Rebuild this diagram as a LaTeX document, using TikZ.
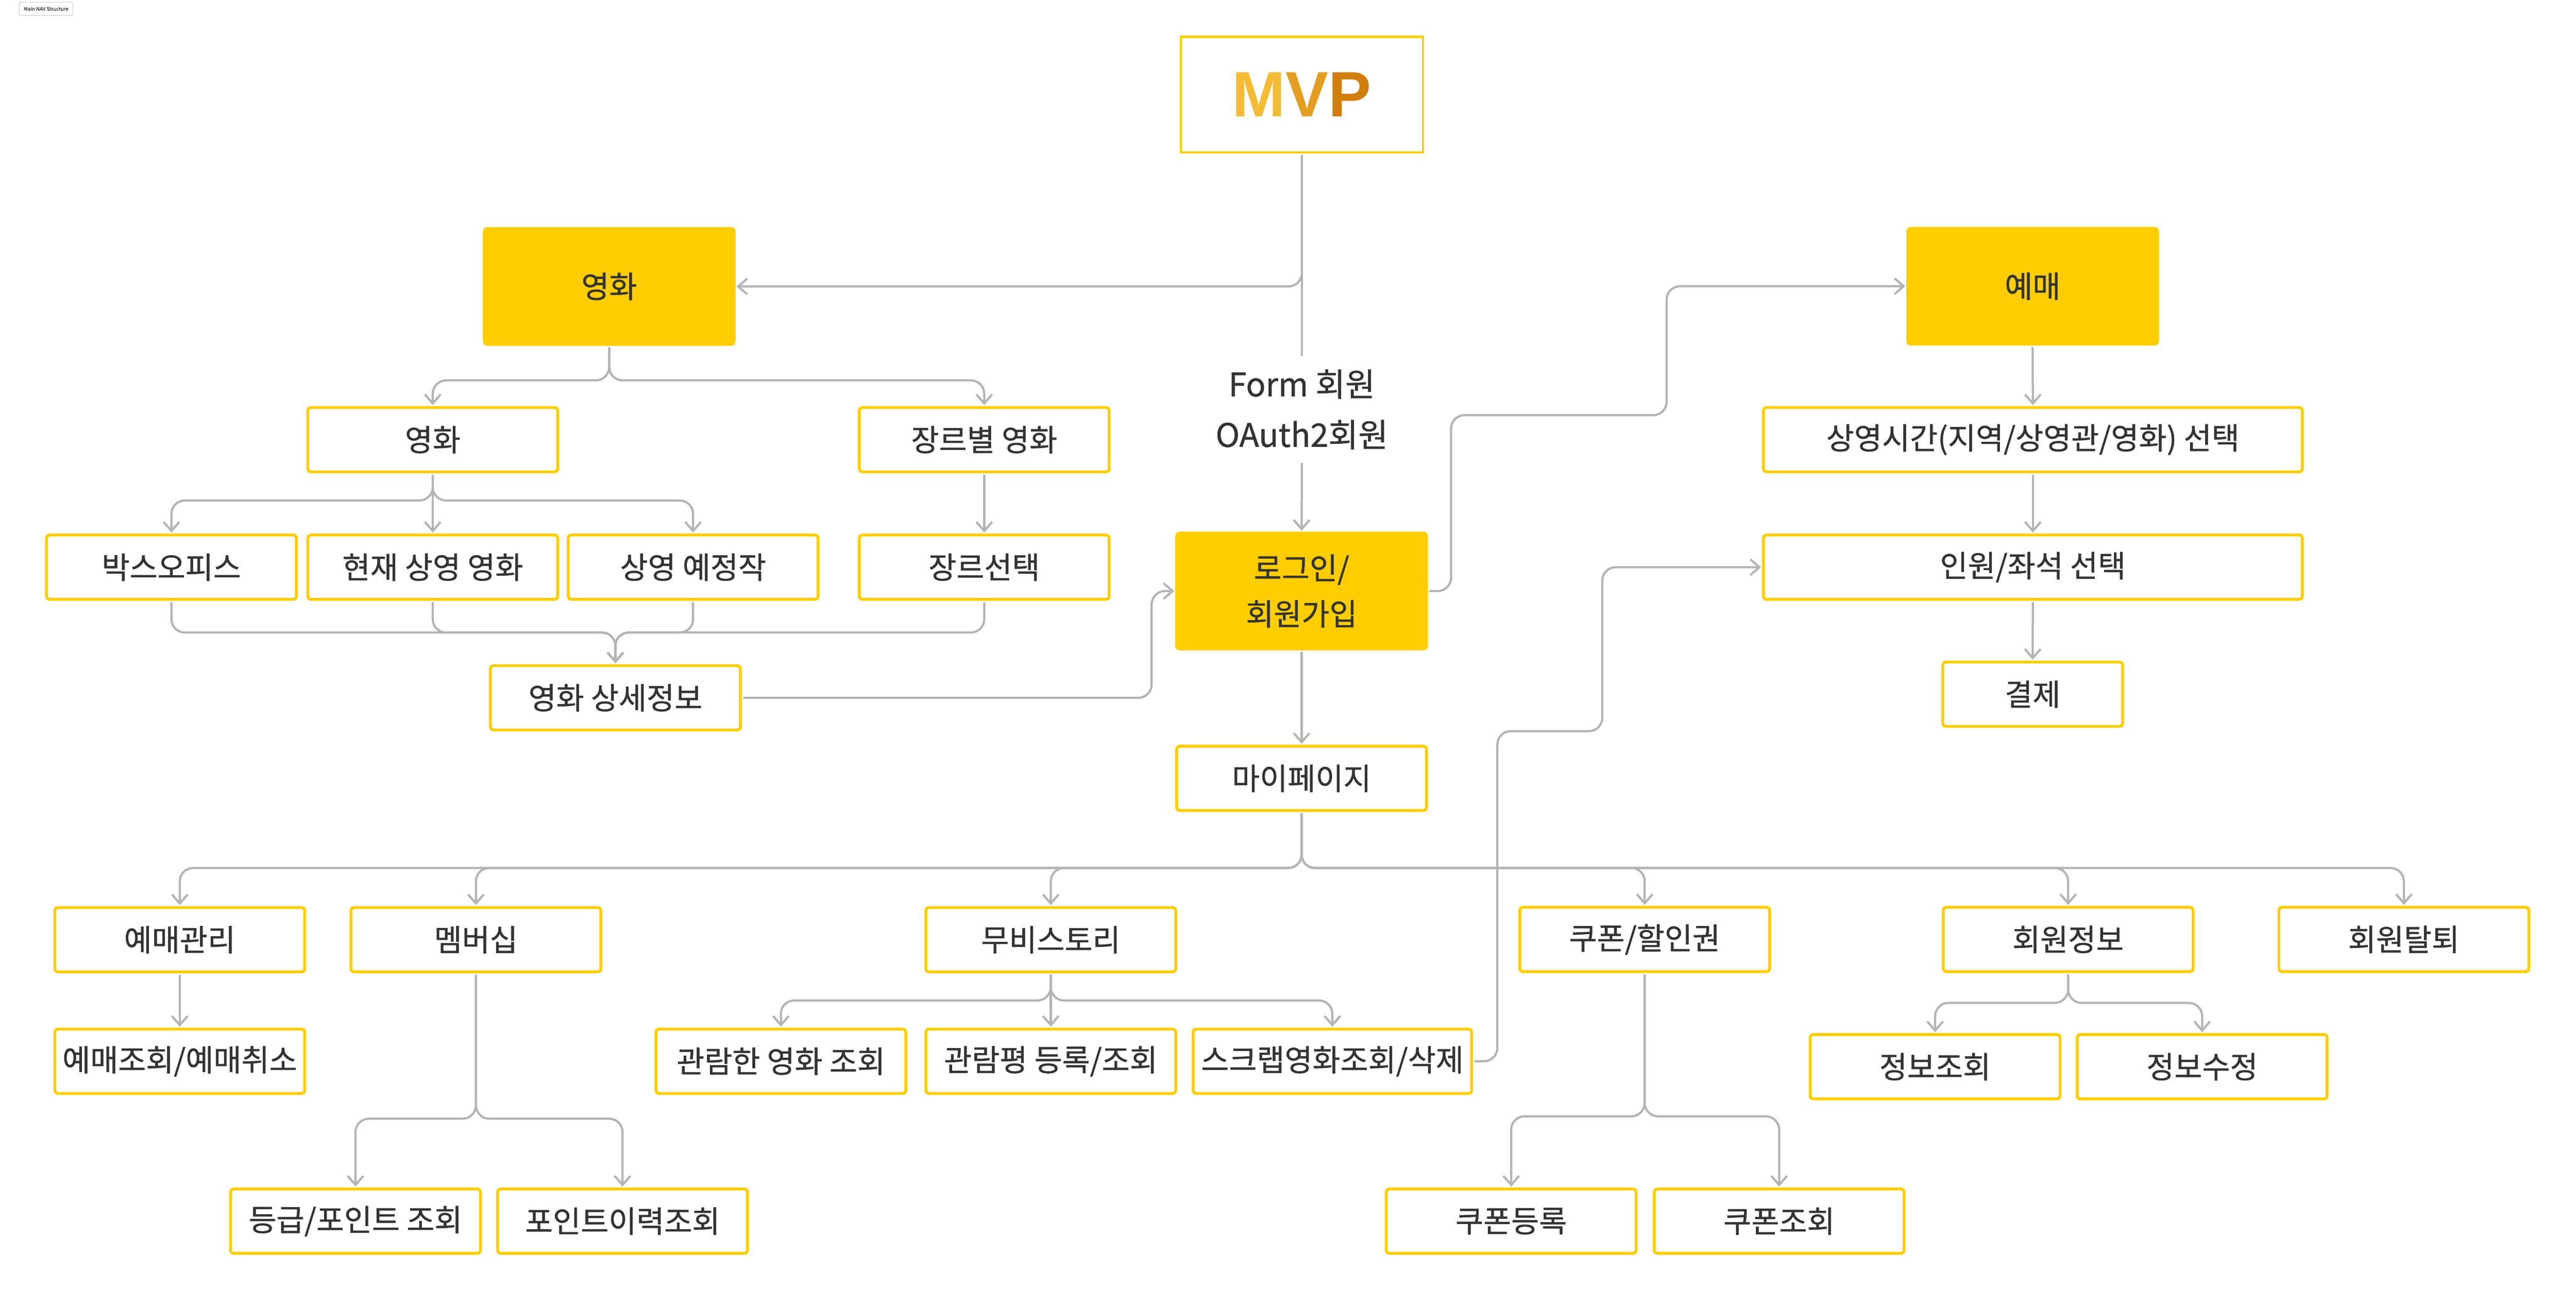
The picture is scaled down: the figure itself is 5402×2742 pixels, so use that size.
\documentclass[tikz,border=0pt]{standalone}
\usepackage{fontspec}
\setmainfont{Noto Sans CJK KR}[FakeBold=0.8]
\newfontfamily\mvpfont{Liberation Sans}
\usetikzlibrary{arrows.meta}
\definecolor{yel}{HTML}{FFCD00}
\definecolor{conncol}{HTML}{B4B4B4}
\definecolor{txt}{HTML}{333333}
\definecolor{mvpA}{HTML}{F4BC35}
\definecolor{mvpB}{HTML}{E39E21}
\definecolor{mvpC}{HTML}{D27E0D}
\definecolor{tagline}{HTML}{C8C8C8}
\begin{document}
\begin{tikzpicture}[x=0.2pt,y=-0.2pt,
  every node/.style={inner sep=0pt, outer sep=0pt},
  box/.style={draw=yel, line width=1.2pt, rounded corners=1.2pt, fill=white, text=txt,
    font=\fontsize{12.7}{15}\selectfont, minimum width=104.8pt, minimum height=27pt},
  fbox/.style={box, fill=yel, minimum height=48.6pt},
  mvpbox/.style={draw=yel, line width=0.9pt, fill=white, minimum width=101.5pt, minimum height=48.5pt},
  conn/.style={draw=conncol, line width=0.92pt, rounded corners=5.6pt,
    -{Straight Barb[length=3.8pt,width=6.6pt]}, shorten >=1pt, shorten <=1.2pt},
  plain/.style={draw=conncol, line width=0.92pt}
]
\useasboundingbox (0,0) rectangle (5402,2742);
\fill[white] (0,0) rectangle (5402,2742);

% tag
\node[draw=tagline, line width=0.25pt, rounded corners=0.6pt, minimum width=22.4pt,
  minimum height=5.6pt, font=\fontsize{2.1}{2.6}\selectfont, text=txt] (tag) at (96.5,18.5) {Main NAV Structure};

% level coordinates
\coordinate (L1) at (0,798);
\coordinate (L2) at (0,1050);
\coordinate (L3) at (0,1327);
\coordinate (L5) at (0,1821);
\coordinate (L6) at (0,2347);
\coordinate (L7) at (0,2099);
\coordinate (L8) at (0,2342);
\coordinate (L9) at (0,2104);
\coordinate (XA) at (2415,0);
\coordinate (XB) at (3043,0);
\coordinate (YB) at (0,871);
\coordinate (XC) at (3495,0);
\coordinate (XD) at (3140,0);
\coordinate (YE) at (0,1534);
\coordinate (XF) at (3360,0);

% nodes
\node[mvpbox] (mvp) at (2730,198.5) {\mvpfont\bfseries\fontsize{26.9}{30}\selectfont\textcolor{mvpA}{M}\textcolor{mvpB}{V}\textcolor{mvpC}{P}};
\node[fbox] (movie) at (1277.5,601) {영화};
\node[fbox] (book) at (4262.5,600.5) {예매};
\node[fbox, align=center, font=\fontsize{12.7}{19.2}\selectfont] (login) at (2729.5,1240) {로그인/\\회원가입};
\node[text=txt, align=center, font=\fontsize{13.6}{21.2}\selectfont, minimum height=44.8pt] (formlbl) at (2730,859) {Form 회원\\OAuth2회원};
\node[box] (mypage) at (2729.5,1633) {마이페이지};
\node[box] (mv2) at (907.5,922.5) {영화};
\node[box] (genre) at (2064,922.5) {장르별 영화};
\node[box] (boxoffice) at (359.5,1190) {박스오피스};
\node[box] (now) at (907.5,1190) {현재 상영 영화};
\node[box] (upcoming) at (1453.5,1190) {상영 예정작};
\node[box] (gsel) at (2064,1190) {장르선택};
\node[box] (detail) at (1290.5,1464) {영화 상세정보};
\node[box, minimum width=226pt] (showtime) at (4263,922.5) {상영시간(지역/상영관/영화) 선택};
\node[box, minimum width=226pt] (seat) at (4263,1190) {인원/좌석 선택};
\node[box, minimum width=75.4pt] (pay) at (4262.5,1456.5) {결제};
\node[box] (bm) at (377,1971.5) {예매관리};
\node[box] (bq) at (377,2226.5) {예매조회/예매취소};
\node[box] (mem) at (998,1971.5) {멤버십};
\node[box] (grade) at (745.5,2562) {등급/포인트 조회};
\node[box] (phist) at (1305.5,2562) {포인트이력조회};
\node[box] (story) at (2203.5,1971.5) {무비스토리};
\node[box] (watched) at (1637.5,2226.5) {관람한 영화 조회};
\node[box] (review) at (2203.5,2226.5) {관람평 등록/조회};
\node[box, minimum width=116.8pt] (scrap) at (2794,2226.5) {스크랩영화조회/삭제};
\node[box] (coupon) at (3449,1971) {쿠폰/할인권};
\node[box] (creg) at (3169,2562) {쿠폰등록};
\node[box] (cq) at (3731,2562) {쿠폰조회};
\node[box] (info) at (4337,1971) {회원정보};
\node[box] (iq) at (4058,2238) {정보조회};
\node[box] (ie) at (4618,2238) {정보수정};
\node[box] (quit) at (5041,1971) {회원탈퇴};

% connectors
\draw[conn] (mvp.south) |- (movie.east);
\draw[plain, shorten <=1.2pt] (mvp.south) -- (formlbl.north);
\draw[conn, shorten <=0pt] (formlbl.south) -- (login.north);
\draw[conn] (movie.south) -- (movie.south |- L1) -| (mv2.north);
\draw[conn] (movie.south) -- (movie.south |- L1) -| (genre.north);
\draw[conn] (mv2.south) -- (mv2.south |- L2) -| (boxoffice.north);
\draw[conn] (mv2.south) -- (now.north);
\draw[conn] (mv2.south) -- (mv2.south |- L2) -| (upcoming.north);
\draw[conn] (genre.south) -- (gsel.north);
\foreach \s in {boxoffice,now,upcoming,gsel}
  \draw[conn] (\s.south) -- (\s.south |- L3) -| (detail.north);
\draw[conn] (detail.east) -- (XA |- detail.east) |- (login.west);
\draw[conn] (login.south) -- (mypage.north);
\draw[conn] (login.east) -- (XB |- login.east) -- (XB |- YB) -- (XC |- YB) |- (book.west);
\draw[conn] (book.south) -- (showtime.north);
\draw[conn] (showtime.south) -- (seat.north);
\draw[conn] (seat.south) -- (pay.north);
\foreach \c in {bm,mem,story,coupon,info,quit}
  \draw[conn] (mypage.south) -- (mypage.south |- L5) -| (\c.north);
\draw[conn] (bm.south) -- (bq.north);
\foreach \c in {grade,phist}
  \draw[conn] (mem.south) -- (mem.south |- L6) -| (\c.north);
\foreach \c in {watched,scrap}
  \draw[conn] (story.south) -- (story.south |- L7) -| (\c.north);
\draw[conn] (story.south) -- (review.north);
\draw[conn] (scrap.east) -- (XD |- scrap.east) -- (XD |- YE) -- (XF |- YE) |- (seat.west);
\foreach \c in {creg,cq}
  \draw[conn] (coupon.south) -- (coupon.south |- L8) -| (\c.north);
\foreach \c in {iq,ie}
  \draw[conn] (info.south) -- (info.south |- L9) -| (\c.north);
\end{tikzpicture}
\end{document}
